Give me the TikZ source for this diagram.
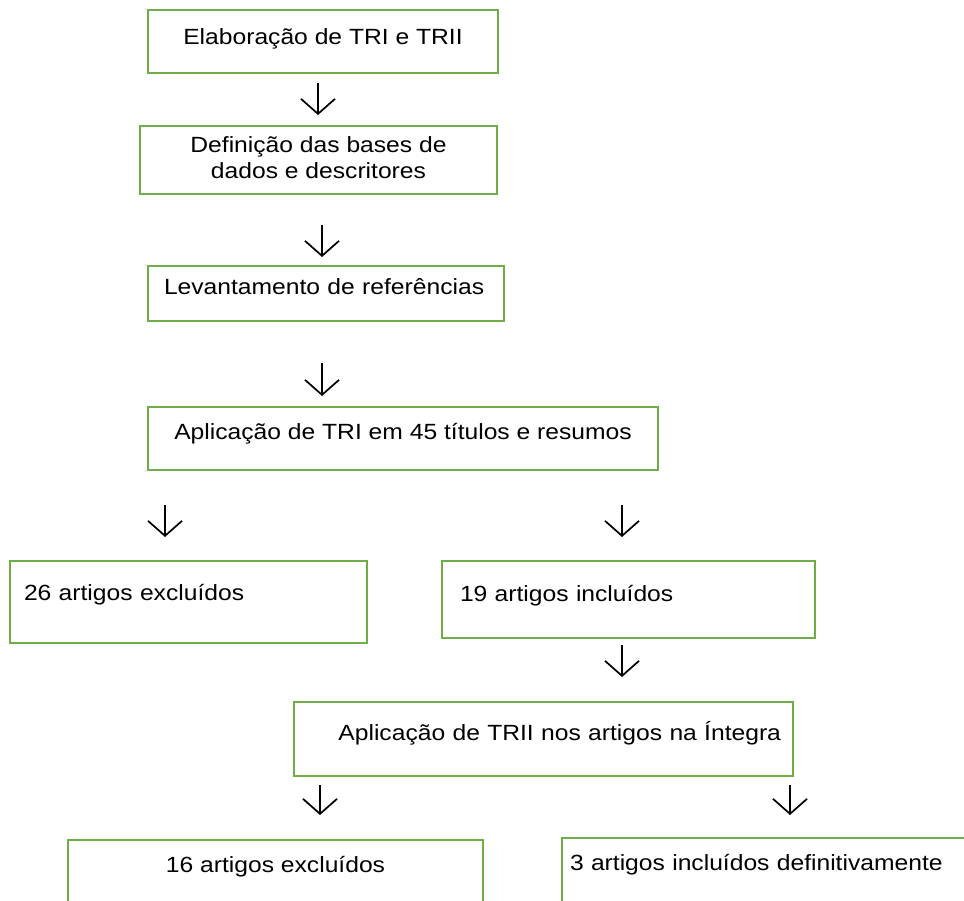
\documentclass[tikz,border=0pt]{standalone}
\usepackage{fontspec}
\setmainfont{Liberation Sans}[FakeStretch=1.12]
\usetikzlibrary{arrows.meta, positioning}
\definecolor{boxgreen}{HTML}{70AD47}
\tikzset{>={Straight Barb[length=15pt, width=34pt]}}

\begin{document}
\begin{tikzpicture}[x=1pt, y=-1pt,
    box/.style={draw=boxgreen, line width=2pt, inner ysep=0pt, text height=16pt,
      font=\fontsize{22}{26}\selectfont},
    flow/.style={->, line width=1.7pt}]
  \useasboundingbox (0,0) rectangle (964,901);
  \clip (0,0) rectangle (964,901);

  % steps
  \node[box, minimum width=350, minimum height=63, align=center, text depth=9pt]
    (elab) at (323,41.5) {Elaboração de TRI e TRII};
  \node[box, minimum width=357, minimum height=68, align=center,
    text height=42pt, text depth=4pt]
    (bases) at (318.5,160) {Definição das bases de\\dados e descritores};
  \node[box, minimum width=356, minimum height=55, align=left, inner xsep=16pt,
    text width=324pt, text depth=13pt]
    (levant) at (326,293.5) {Levantamento de referências};
  \node[box, minimum width=510, minimum height=63, align=center, text depth=15pt]
    (tri) at (403,438.5) {Aplicação de TRI em 45 títulos e resumos};
  \node[box, minimum width=357, minimum height=82, align=left, inner xsep=14pt,
    text width=329pt, text depth=20pt]
    (excl1) at (188.5,602) {26 artigos excluídos};
  \node[box, minimum width=373, minimum height=77, align=left, inner xsep=18pt,
    text width=337pt, text depth=13pt]
    (incl1) at (628.5,599.5) {19 artigos incluídos};
  \node[box, minimum width=499, minimum height=74, align=right, inner xsep=12pt,
    text width=475pt, text depth=14pt]
    (trii) at (543.5,739) {Aplicação de TRII nos artigos na Íntegra};
  \node[box, minimum width=415, minimum height=100, align=center, text depth=52pt]
    (excl2) at (275.5,890) {16 artigos excluídos};
  \node[box, minimum width=420, minimum height=100, align=left, inner xsep=8pt,
    text width=404pt, text depth=52pt]
    (incl2) at (772,888) {3 artigos incluídos definitivamente};

  % arrows between the steps
  \coordinate (a1s) at (318,83);  \coordinate (a1e) at (318,115);
  \coordinate (a2s) at (322,225); \coordinate (a2e) at (322,257);
  \coordinate (a3s) at (322,363); \coordinate (a3e) at (322,396);
  \coordinate (a4s) at (165,505); \coordinate (a4e) at (165,537);
  \coordinate (a5s) at (622,505); \coordinate (a5e) at (622,537);
  \coordinate (a6s) at (622,645); \coordinate (a6e) at (622,677);
  \coordinate (a7s) at (320,785); \coordinate (a7e) at (320,815);
  \coordinate (a8s) at (790,785); \coordinate (a8e) at (790,815);
  \draw[flow] (a1s)--(a1e);
  \draw[flow] (a2s)--(a2e);
  \draw[flow] (a3s)--(a3e);
  \draw[flow] (a4s)--(a4e);
  \draw[flow] (a5s)--(a5e);
  \draw[flow] (a6s)--(a6e);
  \draw[flow] (a7s)--(a7e);
  \draw[flow] (a8s)--(a8e);
\end{tikzpicture}
\end{document}
